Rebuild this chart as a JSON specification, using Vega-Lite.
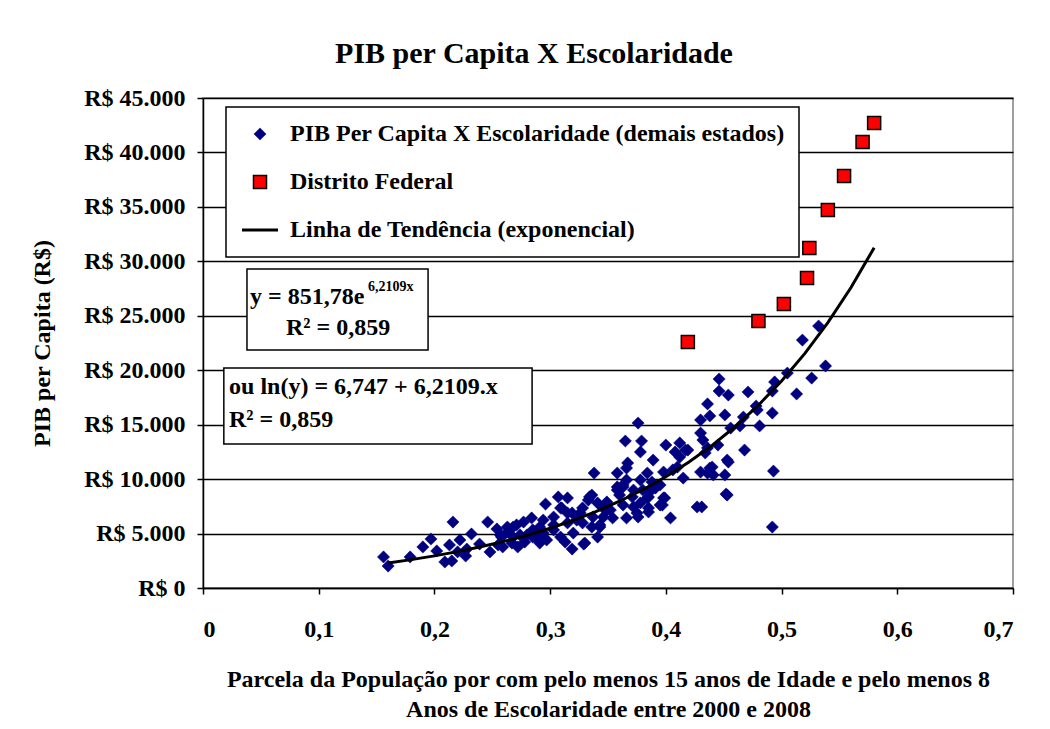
{
  "$schema": "https://vega.github.io/schema/vega-lite/v6.json",
  "width": 810,
  "height": 490,
  "autosize": {"type": "none"},
  "padding": {"left": 203, "top": 98, "right": 37, "bottom": 141},
  "background": "white",
  "title": {"text": "PIB per Capita X Escolaridade", "font": "Liberation Serif", "fontSize": 30, "fontWeight": "bold", "color": "black", "anchor": "middle", "frame": "group", "dx": -74, "offset": 17},
  "config": {
    "font": "Liberation Serif",
    "view": {"stroke": "#808080", "strokeWidth": 1.5},
    "axis": {"labelFont": "Liberation Serif", "labelFontSize": 24, "labelFontWeight": "bold", "labelColor": "black", "titleFont": "Liberation Serif", "titleFontSize": 24, "titleFontWeight": "bold", "titleColor": "black", "domainColor": "black", "domainWidth": 1.5, "tickColor": "black", "tickWidth": 1.5, "tickSize": 6},
    "legend": {"padding": 14, "strokeColor": "black", "strokeWidth": 1.5, "fillColor": "white", "labelFont": "Liberation Serif", "labelFontSize": 24, "labelFontWeight": "bold", "labelColor": "black", "labelOffset": 10, "rowPadding": 22, "clipHeight": 26, "labelLimit": 700}
  },
  "datasets": {
    "pontos": [
      {"x":0.156,"y":2850,"serie":"PIB Per Capita X Escolaridade (demais estados)"},
      {"x":0.160,"y":2020,"serie":"PIB Per Capita X Escolaridade (demais estados)"},
      {"x":0.179,"y":2850,"serie":"PIB Per Capita X Escolaridade (demais estados)"},
      {"x":0.190,"y":3770,"serie":"PIB Per Capita X Escolaridade (demais estados)"},
      {"x":0.197,"y":4500,"serie":"PIB Per Capita X Escolaridade (demais estados)"},
      {"x":0.202,"y":3400,"serie":"PIB Per Capita X Escolaridade (demais estados)"},
      {"x":0.209,"y":2390,"serie":"PIB Per Capita X Escolaridade (demais estados)"},
      {"x":0.215,"y":2480,"serie":"PIB Per Capita X Escolaridade (demais estados)"},
      {"x":0.216,"y":6060,"serie":"PIB Per Capita X Escolaridade (demais estados)"},
      {"x":0.213,"y":3950,"serie":"PIB Per Capita X Escolaridade (demais estados)"},
      {"x":0.222,"y":4410,"serie":"PIB Per Capita X Escolaridade (demais estados)"},
      {"x":0.220,"y":3310,"serie":"PIB Per Capita X Escolaridade (demais estados)"},
      {"x":0.227,"y":2940,"serie":"PIB Per Capita X Escolaridade (demais estados)"},
      {"x":0.232,"y":4960,"serie":"PIB Per Capita X Escolaridade (demais estados)"},
      {"x":0.228,"y":3580,"serie":"PIB Per Capita X Escolaridade (demais estados)"},
      {"x":0.239,"y":4040,"serie":"PIB Per Capita X Escolaridade (demais estados)"},
      {"x":0.246,"y":6060,"serie":"PIB Per Capita X Escolaridade (demais estados)"},
      {"x":0.248,"y":3310,"serie":"PIB Per Capita X Escolaridade (demais estados)"},
      {"x":0.254,"y":5420,"serie":"PIB Per Capita X Escolaridade (demais estados)"},
      {"x":0.258,"y":4680,"serie":"PIB Per Capita X Escolaridade (demais estados)"},
      {"x":0.259,"y":3770,"serie":"PIB Per Capita X Escolaridade (demais estados)"},
      {"x":0.263,"y":5600,"serie":"PIB Per Capita X Escolaridade (demais estados)"},
      {"x":0.267,"y":4130,"serie":"PIB Per Capita X Escolaridade (demais estados)"},
      {"x":0.271,"y":5790,"serie":"PIB Per Capita X Escolaridade (demais estados)"},
      {"x":0.274,"y":4870,"serie":"PIB Per Capita X Escolaridade (demais estados)"},
      {"x":0.277,"y":6060,"serie":"PIB Per Capita X Escolaridade (demais estados)"},
      {"x":0.284,"y":6430,"serie":"PIB Per Capita X Escolaridade (demais estados)"},
      {"x":0.285,"y":5330,"serie":"PIB Per Capita X Escolaridade (demais estados)"},
      {"x":0.290,"y":4410,"serie":"PIB Per Capita X Escolaridade (demais estados)"},
      {"x":0.294,"y":5050,"serie":"PIB Per Capita X Escolaridade (demais estados)"},
      {"x":0.296,"y":7710,"serie":"PIB Per Capita X Escolaridade (demais estados)"},
      {"x":0.303,"y":5330,"serie":"PIB Per Capita X Escolaridade (demais estados)"},
      {"x":0.307,"y":8360,"serie":"PIB Per Capita X Escolaridade (demais estados)"},
      {"x":0.315,"y":8270,"serie":"PIB Per Capita X Escolaridade (demais estados)"},
      {"x":0.310,"y":7350,"serie":"PIB Per Capita X Escolaridade (demais estados)"},
      {"x":0.315,"y":6890,"serie":"PIB Per Capita X Escolaridade (demais estados)"},
      {"x":0.303,"y":6520,"serie":"PIB Per Capita X Escolaridade (demais estados)"},
      {"x":0.313,"y":4220,"serie":"PIB Per Capita X Escolaridade (demais estados)"},
      {"x":0.319,"y":3580,"serie":"PIB Per Capita X Escolaridade (demais estados)"},
      {"x":0.329,"y":4040,"serie":"PIB Per Capita X Escolaridade (demais estados)"},
      {"x":0.337,"y":6520,"serie":"PIB Per Capita X Escolaridade (demais estados)"},
      {"x":0.338,"y":10560,"serie":"PIB Per Capita X Escolaridade (demais estados)"},
      {"x":0.334,"y":8360,"serie":"PIB Per Capita X Escolaridade (demais estados)"},
      {"x":0.343,"y":5600,"serie":"PIB Per Capita X Escolaridade (demais estados)"},
      {"x":0.349,"y":7160,"serie":"PIB Per Capita X Escolaridade (demais estados)"},
      {"x":0.358,"y":10560,"serie":"PIB Per Capita X Escolaridade (demais estados)"},
      {"x":0.358,"y":9280,"serie":"PIB Per Capita X Escolaridade (demais estados)"},
      {"x":0.255,"y":3950,"serie":"PIB Per Capita X Escolaridade (demais estados)"},
      {"x":0.268,"y":4680,"serie":"PIB Per Capita X Escolaridade (demais estados)"},
      {"x":0.280,"y":4870,"serie":"PIB Per Capita X Escolaridade (demais estados)"},
      {"x":0.291,"y":5600,"serie":"PIB Per Capita X Escolaridade (demais estados)"},
      {"x":0.297,"y":4410,"serie":"PIB Per Capita X Escolaridade (demais estados)"},
      {"x":0.309,"y":4680,"serie":"PIB Per Capita X Escolaridade (demais estados)"},
      {"x":0.291,"y":4130,"serie":"PIB Per Capita X Escolaridade (demais estados)"},
      {"x":0.268,"y":5600,"serie":"PIB Per Capita X Escolaridade (demais estados)"},
      {"x":0.263,"y":5140,"serie":"PIB Per Capita X Escolaridade (demais estados)"},
      {"x":0.257,"y":4870,"serie":"PIB Per Capita X Escolaridade (demais estados)"},
      {"x":0.278,"y":4220,"serie":"PIB Per Capita X Escolaridade (demais estados)"},
      {"x":0.272,"y":3770,"serie":"PIB Per Capita X Escolaridade (demais estados)"},
      {"x":0.285,"y":4680,"serie":"PIB Per Capita X Escolaridade (demais estados)"},
      {"x":0.294,"y":6240,"serie":"PIB Per Capita X Escolaridade (demais estados)"},
      {"x":0.309,"y":7350,"serie":"PIB Per Capita X Escolaridade (demais estados)"},
      {"x":0.323,"y":6240,"serie":"PIB Per Capita X Escolaridade (demais estados)"},
      {"x":0.319,"y":6890,"serie":"PIB Per Capita X Escolaridade (demais estados)"},
      {"x":0.303,"y":5790,"serie":"PIB Per Capita X Escolaridade (demais estados)"},
      {"x":0.315,"y":5970,"serie":"PIB Per Capita X Escolaridade (demais estados)"},
      {"x":0.320,"y":5050,"serie":"PIB Per Capita X Escolaridade (demais estados)"},
      {"x":0.326,"y":6890,"serie":"PIB Per Capita X Escolaridade (demais estados)"},
      {"x":0.328,"y":7350,"serie":"PIB Per Capita X Escolaridade (demais estados)"},
      {"x":0.328,"y":5970,"serie":"PIB Per Capita X Escolaridade (demais estados)"},
      {"x":0.336,"y":5600,"serie":"PIB Per Capita X Escolaridade (demais estados)"},
      {"x":0.341,"y":4680,"serie":"PIB Per Capita X Escolaridade (demais estados)"},
      {"x":0.330,"y":4130,"serie":"PIB Per Capita X Escolaridade (demais estados)"},
      {"x":0.333,"y":8080,"serie":"PIB Per Capita X Escolaridade (demais estados)"},
      {"x":0.336,"y":8540,"serie":"PIB Per Capita X Escolaridade (demais estados)"},
      {"x":0.341,"y":7810,"serie":"PIB Per Capita X Escolaridade (demais estados)"},
      {"x":0.345,"y":7440,"serie":"PIB Per Capita X Escolaridade (demais estados)"},
      {"x":0.352,"y":7160,"serie":"PIB Per Capita X Escolaridade (demais estados)"},
      {"x":0.346,"y":6520,"serie":"PIB Per Capita X Escolaridade (demais estados)"},
      {"x":0.343,"y":5790,"serie":"PIB Per Capita X Escolaridade (demais estados)"},
      {"x":0.354,"y":6430,"serie":"PIB Per Capita X Escolaridade (demais estados)"},
      {"x":0.360,"y":8540,"serie":"PIB Per Capita X Escolaridade (demais estados)"},
      {"x":0.363,"y":7620,"serie":"PIB Per Capita X Escolaridade (demais estados)"},
      {"x":0.371,"y":8360,"serie":"PIB Per Capita X Escolaridade (demais estados)"},
      {"x":0.366,"y":6430,"serie":"PIB Per Capita X Escolaridade (demais estados)"},
      {"x":0.376,"y":6520,"serie":"PIB Per Capita X Escolaridade (demais estados)"},
      {"x":0.372,"y":7440,"serie":"PIB Per Capita X Escolaridade (demais estados)"},
      {"x":0.385,"y":7350,"serie":"PIB Per Capita X Escolaridade (demais estados)"},
      {"x":0.384,"y":8270,"serie":"PIB Per Capita X Escolaridade (demais estados)"},
      {"x":0.397,"y":7620,"serie":"PIB Per Capita X Escolaridade (demais estados)"},
      {"x":0.398,"y":8270,"serie":"PIB Per Capita X Escolaridade (demais estados)"},
      {"x":0.404,"y":6430,"serie":"PIB Per Capita X Escolaridade (demais estados)"},
      {"x":0.363,"y":9280,"serie":"PIB Per Capita X Escolaridade (demais estados)"},
      {"x":0.358,"y":9000,"serie":"PIB Per Capita X Escolaridade (demais estados)"},
      {"x":0.372,"y":9000,"serie":"PIB Per Capita X Escolaridade (demais estados)"},
      {"x":0.380,"y":9000,"serie":"PIB Per Capita X Escolaridade (demais estados)"},
      {"x":0.391,"y":9180,"serie":"PIB Per Capita X Escolaridade (demais estados)"},
      {"x":0.366,"y":9920,"serie":"PIB Per Capita X Escolaridade (demais estados)"},
      {"x":0.378,"y":9920,"serie":"PIB Per Capita X Escolaridade (demais estados)"},
      {"x":0.388,"y":9730,"serie":"PIB Per Capita X Escolaridade (demais estados)"},
      {"x":0.384,"y":10560,"serie":"PIB Per Capita X Escolaridade (demais estados)"},
      {"x":0.398,"y":10650,"serie":"PIB Per Capita X Escolaridade (demais estados)"},
      {"x":0.406,"y":10840,"serie":"PIB Per Capita X Escolaridade (demais estados)"},
      {"x":0.410,"y":11110,"serie":"PIB Per Capita X Escolaridade (demais estados)"},
      {"x":0.415,"y":10100,"serie":"PIB Per Capita X Escolaridade (demais estados)"},
      {"x":0.367,"y":11480,"serie":"PIB Per Capita X Escolaridade (demais estados)"},
      {"x":0.366,"y":11020,"serie":"PIB Per Capita X Escolaridade (demais estados)"},
      {"x":0.389,"y":11750,"serie":"PIB Per Capita X Escolaridade (demais estados)"},
      {"x":0.378,"y":12490,"serie":"PIB Per Capita X Escolaridade (demais estados)"},
      {"x":0.365,"y":13500,"serie":"PIB Per Capita X Escolaridade (demais estados)"},
      {"x":0.379,"y":13500,"serie":"PIB Per Capita X Escolaridade (demais estados)"},
      {"x":0.376,"y":15150,"serie":"PIB Per Capita X Escolaridade (demais estados)"},
      {"x":0.400,"y":13130,"serie":"PIB Per Capita X Escolaridade (demais estados)"},
      {"x":0.412,"y":13320,"serie":"PIB Per Capita X Escolaridade (demais estados)"},
      {"x":0.417,"y":12670,"serie":"PIB Per Capita X Escolaridade (demais estados)"},
      {"x":0.408,"y":12490,"serie":"PIB Per Capita X Escolaridade (demais estados)"},
      {"x":0.412,"y":12030,"serie":"PIB Per Capita X Escolaridade (demais estados)"},
      {"x":0.427,"y":7440,"serie":"PIB Per Capita X Escolaridade (demais estados)"},
      {"x":0.430,"y":14230,"serie":"PIB Per Capita X Escolaridade (demais estados)"},
      {"x":0.430,"y":15430,"serie":"PIB Per Capita X Escolaridade (demais estados)"},
      {"x":0.432,"y":13590,"serie":"PIB Per Capita X Escolaridade (demais estados)"},
      {"x":0.436,"y":12860,"serie":"PIB Per Capita X Escolaridade (demais estados)"},
      {"x":0.445,"y":13130,"serie":"PIB Per Capita X Escolaridade (demais estados)"},
      {"x":0.419,"y":12670,"serie":"PIB Per Capita X Escolaridade (demais estados)"},
      {"x":0.430,"y":10650,"serie":"PIB Per Capita X Escolaridade (demais estados)"},
      {"x":0.438,"y":11020,"serie":"PIB Per Capita X Escolaridade (demais estados)"},
      {"x":0.441,"y":10380,"serie":"PIB Per Capita X Escolaridade (demais estados)"},
      {"x":0.451,"y":10380,"serie":"PIB Per Capita X Escolaridade (demais estados)"},
      {"x":0.453,"y":11750,"serie":"PIB Per Capita X Escolaridade (demais estados)"},
      {"x":0.453,"y":8540,"serie":"PIB Per Capita X Escolaridade (demais estados)"},
      {"x":0.431,"y":7440,"serie":"PIB Per Capita X Escolaridade (demais estados)"},
      {"x":0.395,"y":9460,"serie":"PIB Per Capita X Escolaridade (demais estados)"},
      {"x":0.399,"y":8270,"serie":"PIB Per Capita X Escolaridade (demais estados)"},
      {"x":0.395,"y":7620,"serie":"PIB Per Capita X Escolaridade (demais estados)"},
      {"x":0.386,"y":8820,"serie":"PIB Per Capita X Escolaridade (demais estados)"},
      {"x":0.385,"y":8360,"serie":"PIB Per Capita X Escolaridade (demais estados)"},
      {"x":0.378,"y":7810,"serie":"PIB Per Capita X Escolaridade (demais estados)"},
      {"x":0.375,"y":6890,"serie":"PIB Per Capita X Escolaridade (demais estados)"},
      {"x":0.385,"y":6980,"serie":"PIB Per Capita X Escolaridade (demais estados)"},
      {"x":0.446,"y":19190,"serie":"PIB Per Capita X Escolaridade (demais estados)"},
      {"x":0.446,"y":18090,"serie":"PIB Per Capita X Escolaridade (demais estados)"},
      {"x":0.454,"y":17720,"serie":"PIB Per Capita X Escolaridade (demais estados)"},
      {"x":0.436,"y":16900,"serie":"PIB Per Capita X Escolaridade (demais estados)"},
      {"x":0.438,"y":15800,"serie":"PIB Per Capita X Escolaridade (demais estados)"},
      {"x":0.451,"y":15890,"serie":"PIB Per Capita X Escolaridade (demais estados)"},
      {"x":0.471,"y":18000,"serie":"PIB Per Capita X Escolaridade (demais estados)"},
      {"x":0.478,"y":16710,"serie":"PIB Per Capita X Escolaridade (demais estados)"},
      {"x":0.479,"y":16350,"serie":"PIB Per Capita X Escolaridade (demais estados)"},
      {"x":0.492,"y":16070,"serie":"PIB Per Capita X Escolaridade (demais estados)"},
      {"x":0.467,"y":15700,"serie":"PIB Per Capita X Escolaridade (demais estados)"},
      {"x":0.464,"y":14880,"serie":"PIB Per Capita X Escolaridade (demais estados)"},
      {"x":0.456,"y":14690,"serie":"PIB Per Capita X Escolaridade (demais estados)"},
      {"x":0.481,"y":14880,"serie":"PIB Per Capita X Escolaridade (demais estados)"},
      {"x":0.434,"y":12400,"serie":"PIB Per Capita X Escolaridade (demais estados)"},
      {"x":0.468,"y":12670,"serie":"PIB Per Capita X Escolaridade (demais estados)"},
      {"x":0.454,"y":11570,"serie":"PIB Per Capita X Escolaridade (demais estados)"},
      {"x":0.440,"y":11110,"serie":"PIB Per Capita X Escolaridade (demais estados)"},
      {"x":0.436,"y":10560,"serie":"PIB Per Capita X Escolaridade (demais estados)"},
      {"x":0.493,"y":10740,"serie":"PIB Per Capita X Escolaridade (demais estados)"},
      {"x":0.452,"y":8630,"serie":"PIB Per Capita X Escolaridade (demais estados)"},
      {"x":0.492,"y":5600,"serie":"PIB Per Capita X Escolaridade (demais estados)"},
      {"x":0.532,"y":24060,"serie":"PIB Per Capita X Escolaridade (demais estados)"},
      {"x":0.518,"y":22770,"serie":"PIB Per Capita X Escolaridade (demais estados)"},
      {"x":0.538,"y":20390,"serie":"PIB Per Capita X Escolaridade (demais estados)"},
      {"x":0.526,"y":19280,"serie":"PIB Per Capita X Escolaridade (demais estados)"},
      {"x":0.505,"y":19740,"serie":"PIB Per Capita X Escolaridade (demais estados)"},
      {"x":0.494,"y":18920,"serie":"PIB Per Capita X Escolaridade (demais estados)"},
      {"x":0.492,"y":18090,"serie":"PIB Per Capita X Escolaridade (demais estados)"},
      {"x":0.513,"y":17820,"serie":"PIB Per Capita X Escolaridade (demais estados)"},
      {"x":0.363,"y":9460,"serie":"PIB Per Capita X Escolaridade (demais estados)"},
      {"x":0.349,"y":7900,"serie":"PIB Per Capita X Escolaridade (demais estados)"},
      {"x":0.419,"y":22590,"serie":"Distrito Federal"},
      {"x":0.480,"y":24520,"serie":"Distrito Federal"},
      {"x":0.502,"y":26080,"serie":"Distrito Federal"},
      {"x":0.522,"y":28470,"serie":"Distrito Federal"},
      {"x":0.524,"y":31220,"serie":"Distrito Federal"},
      {"x":0.540,"y":34710,"serie":"Distrito Federal"},
      {"x":0.554,"y":37830,"serie":"Distrito Federal"},
      {"x":0.570,"y":40960,"serie":"Distrito Federal"},
      {"x":0.580,"y":42700,"serie":"Distrito Federal"}
    ],
    "tendencia": [
      {"x":0.16,"y":2301},{"x":0.18,"y":2605},{"x":0.20,"y":2950},{"x":0.22,"y":3340},
      {"x":0.24,"y":3782},{"x":0.26,"y":4282},{"x":0.28,"y":4848},{"x":0.30,"y":5490},
      {"x":0.32,"y":6216},{"x":0.34,"y":7038},{"x":0.36,"y":7969},{"x":0.38,"y":9023},
      {"x":0.40,"y":10216},{"x":0.42,"y":11567},{"x":0.44,"y":13097},{"x":0.46,"y":14829},
      {"x":0.48,"y":16791},{"x":0.50,"y":19011},{"x":0.52,"y":21526},{"x":0.54,"y":24373},
      {"x":0.56,"y":27596},{"x":0.58,"y":31246}
    ]
  },
  "layer": [
    {
      "data": {"values": [{}]},
      "mark": {"type": "rect", "fill": "white", "stroke": "black", "strokeWidth": 1.5},
      "encoding": {
        "x": {"datum": 0.038, "type": "quantitative", "scale": {"domain": [0, 0.7], "nice": false}, "axis": {"values": [0, 0.1, 0.2, 0.3, 0.4, 0.5, 0.6, 0.7], "labelExpr": "datum.value == 0 ? '0' : replace(format(datum.value, '.1f'), '.', ',')", "grid": false, "labelPadding": 23, "title": ["Parcela da População por com pelo menos 15 anos de Idade e pelo menos 8", "Anos de Escolaridade entre 2000 e 2008"], "titlePadding": 26, "titleLineHeight": 30}},
        "x2": {"datum": 0.1945},
        "y": {"datum": 29290, "type": "quantitative", "scale": {"domain": [0, 45000], "nice": false}, "axis": {"values": [0, 5000, 10000, 15000, 20000, 25000, 30000, 35000, 40000, 45000], "labelExpr": "'R$ ' + replace(format(datum.value, ',.0f'), ',', '.')", "grid": true, "gridColor": "black", "gridWidth": 1.5, "labelPadding": 12, "title": "PIB per Capita (R$)", "titlePadding": 29}},
        "y2": {"datum": 21860}
      }
    },
    {
      "data": {"values": [{}]},
      "mark": {"type": "rect", "fill": "white", "stroke": "black", "strokeWidth": 1.5},
      "encoding": {
        "x": {"datum": 0.018, "type": "quantitative"},
        "x2": {"datum": 0.2844},
        "y": {"datum": 20200, "type": "quantitative"},
        "y2": {"datum": 13220}
      }
    },
    {
      "data": {"values": [{}]},
      "mark": {"type": "text", "text": "y = 851,78e", "align": "left", "baseline": "middle", "font": "Liberation Serif", "fontSize": 24, "fontWeight": "bold", "color": "black"},
      "encoding": {"x": {"datum": 0.0406, "type": "quantitative"}, "y": {"datum": 26720, "type": "quantitative"}}
    },
    {
      "data": {"values": [{}]},
      "mark": {"type": "text", "text": "6,2109x", "align": "left", "baseline": "middle", "font": "Liberation Serif", "fontSize": 14, "fontWeight": "bold", "color": "black"},
      "encoding": {"x": {"datum": 0.1425, "type": "quantitative"}, "y": {"datum": 27650, "type": "quantitative"}}
    },
    {
      "data": {"values": [{}]},
      "mark": {"type": "text", "text": "R² = 0,859", "align": "center", "baseline": "middle", "font": "Liberation Serif", "fontSize": 24, "fontWeight": "bold", "color": "black"},
      "encoding": {"x": {"datum": 0.1167, "type": "quantitative"}, "y": {"datum": 23880, "type": "quantitative"}}
    },
    {
      "data": {"values": [{}]},
      "mark": {"type": "text", "text": "ou ln(y) = 6,747 + 6,2109.x", "align": "left", "baseline": "middle", "font": "Liberation Serif", "fontSize": 24, "fontWeight": "bold", "color": "black"},
      "encoding": {"x": {"datum": 0.0225, "type": "quantitative"}, "y": {"datum": 18460, "type": "quantitative"}}
    },
    {
      "data": {"values": [{}]},
      "mark": {"type": "text", "text": "R² = 0,859", "align": "left", "baseline": "middle", "font": "Liberation Serif", "fontSize": 24, "fontWeight": "bold", "color": "black"},
      "encoding": {"x": {"datum": 0.0225, "type": "quantitative"}, "y": {"datum": 15430, "type": "quantitative"}}
    },
    {
      "data": {"name": "pontos"},
      "mark": {"type": "point", "filled": true, "opacity": 1},
      "encoding": {
        "x": {"field": "x", "type": "quantitative"},
        "y": {"field": "y", "type": "quantitative"},
        "color": {"field": "serie", "type": "nominal", "scale": {"domain": ["PIB Per Capita X Escolaridade (demais estados)", "Distrito Federal", "Linha de Tendência (exponencial)"], "range": ["#000080", "#FF0000", "#000000"]}, "legend": {"orient": "none", "legendX": 23, "legendY": 9, "title": null}},
        "shape": {"field": "serie", "type": "nominal", "scale": {"domain": ["PIB Per Capita X Escolaridade (demais estados)", "Distrito Federal", "Linha de Tendência (exponencial)"], "range": ["diamond", "square", "stroke"]}, "legend": {"orient": "none", "legendX": 23, "legendY": 9, "title": null}},
        "size": {"field": "serie", "type": "nominal", "scale": {"type": "ordinal", "domain": ["PIB Per Capita X Escolaridade (demais estados)", "Distrito Federal", "Linha de Tendência (exponencial)"], "range": [150, 170, 1300]}, "legend": {"orient": "none", "legendX": 23, "legendY": 9, "title": null}},
        "stroke": {"field": "serie", "type": "nominal", "scale": {"domain": ["PIB Per Capita X Escolaridade (demais estados)", "Distrito Federal", "Linha de Tendência (exponencial)"], "range": ["#000080", "#000000", "#000000"]}, "legend": {"orient": "none", "legendX": 23, "legendY": 9, "title": null}},
        "strokeWidth": {"field": "serie", "type": "nominal", "scale": {"type": "ordinal", "domain": ["PIB Per Capita X Escolaridade (demais estados)", "Distrito Federal", "Linha de Tendência (exponencial)"], "range": [0.5, 1.5, 3]}, "legend": {"orient": "none", "legendX": 23, "legendY": 9, "title": null}}
      }
    },
    {
      "data": {"name": "tendencia"},
      "mark": {"type": "line", "color": "black", "strokeWidth": 3},
      "encoding": {
        "x": {"field": "x", "type": "quantitative"},
        "y": {"field": "y", "type": "quantitative"}
      }
    }
  ]
}
